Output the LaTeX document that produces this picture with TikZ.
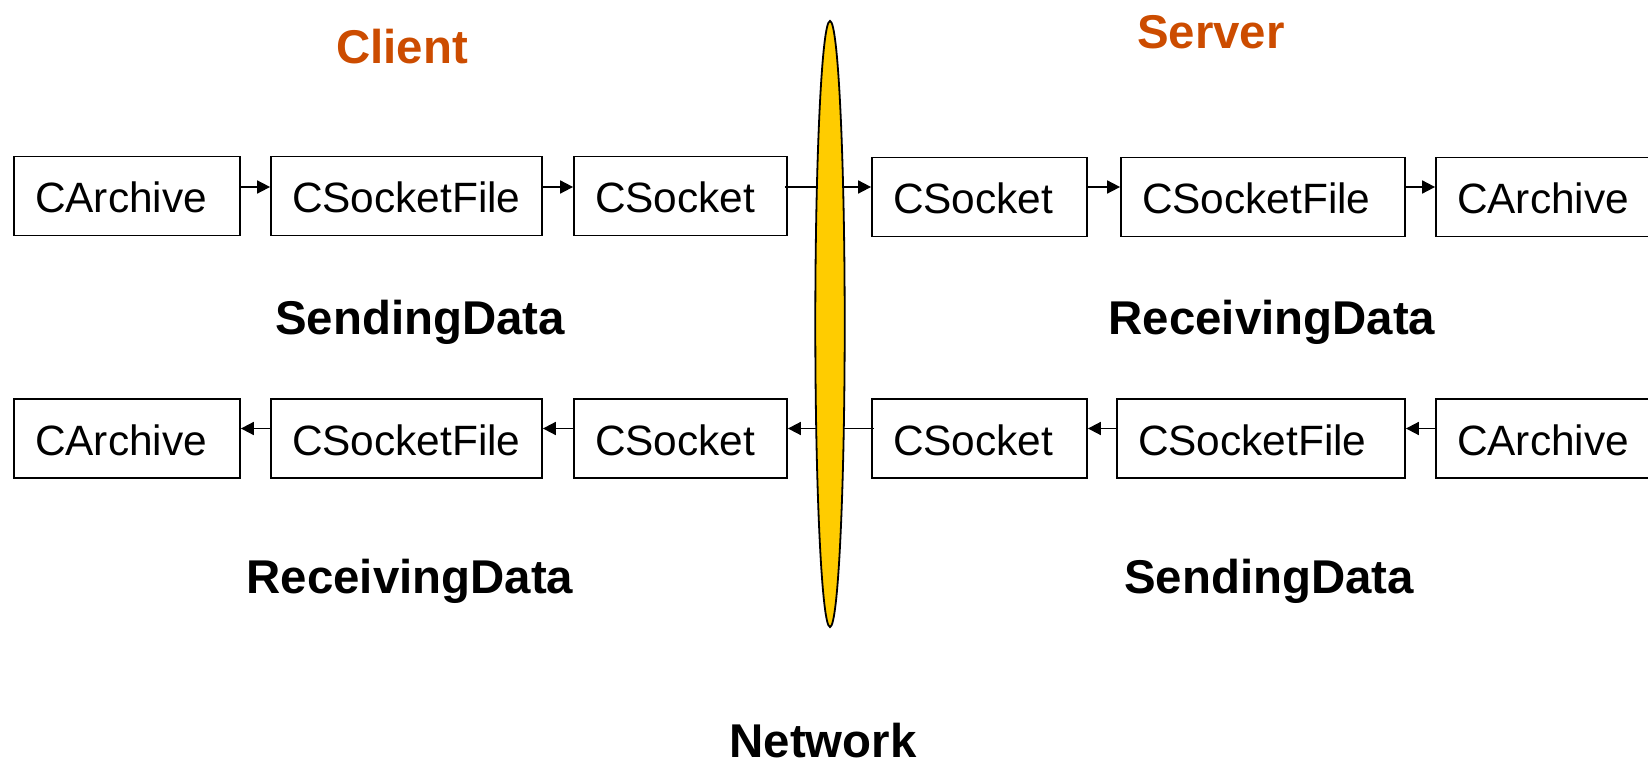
\documentclass[tikz,border=0pt]{standalone}
\usepackage{fontspec}
\setmainfont{Liberation Sans}
\usetikzlibrary{arrows.meta,shapes.geometric}
\definecolor{titleorange}{RGB}{204,76,0}
\definecolor{netyellow}{RGB}{255,204,0}
\begin{document}
\begin{tikzpicture}[x=0.5pt,y=-0.5pt,
  box/.style={draw,line width=0.9pt,inner ysep=0pt,inner xsep=10.5pt,
    minimum height=39.5pt,align=left,text height=17pt,text depth=0pt,
    font=\fontsize{21.2}{25}\selectfont},
  link/.style={line width=0.9pt,-{Triangle[length=6.5pt,width=6.5pt]}},
  heading/.style={font=\bfseries\fontsize{23.7}{28}\selectfont,anchor=base},
  side/.style={heading,text=titleorange}]
\useasboundingbox (0,0) rectangle (1648,764);
\clip (0,0) rectangle (1648,764);

% side titles
\node[side] (client) at (402,64) {Client};
\node[side] (server) at (1211,49) {Server};

% sending path: client to server
\node[box,text width=92pt]    (ca1) at (127,196)    {CArchive};
\node[box,text width=114.5pt] (cf1) at (406.5,196)  {CSocketFile};
\node[box,text width=85.5pt]  (cs1) at (680.5,196)  {CSocket};
\node[box,text width=86.5pt]  (cs2) at (979.5,197)  {CSocket};
\node[box,text width=121pt]   (cf2) at (1263,197)   {CSocketFile};
\node[box,text width=91pt]    (ca2) at (1548,197)   {CArchive};

% receiving path: server to client
\node[box,text width=92pt]    (ca3) at (127,438.5)   {CArchive};
\node[box,text width=114.5pt] (cf3) at (406.5,438.5) {CSocketFile};
\node[box,text width=85.5pt]  (cs3) at (680.5,438.5) {CSocket};
\node[box,text width=86.5pt]  (cs4) at (979.5,438.5) {CSocket};
\node[box,text width=123pt]   (cf4) at (1261,438.5)  {CSocketFile};
\node[box,text width=91pt]    (ca4) at (1548,438.5)  {CArchive};

% connectors, upper row
\draw[link] ([yshift=4.5pt]ca1.east) -- ([yshift=4.5pt]cf1.west);
\draw[link] ([yshift=4.5pt]cf1.east) -- ([yshift=4.5pt]cs1.west);
\draw[link] ([xshift=-1.5pt,yshift=4.5pt]cs1.east) -- ([yshift=4.5pt]cs1.east -| cs2.west);
\draw[link] ([yshift=5pt]cs2.east) -- ([yshift=5pt]cf2.west);
\draw[link] ([yshift=5pt]cf2.east) -- ([yshift=5pt]ca2.west);

% connectors, lower row
\draw[link] ([xshift=1.5pt,yshift=5pt]cs4.west) -- ([yshift=5pt]cs3.east);
\draw[link] ([yshift=5pt]cs3.west) -- ([yshift=5pt]cf3.east);
\draw[link] ([yshift=5pt]cf3.west) -- ([yshift=5pt]ca3.east);
\draw[link] ([yshift=5pt]cf4.west) -- ([yshift=5pt]cs4.east);
\draw[link] ([yshift=5pt]ca4.west) -- ([yshift=5pt]cf4.east);

% the network
\node[ellipse,draw,line width=0.9pt,fill=netyellow,inner sep=0pt,
  minimum width=14.7pt,minimum height=303pt] (net) at (830,324) {};

% path labels
\node[heading] (send1) at (420,335) {SendingData};
\node[heading] (recv1) at (1272,335) {ReceivingData};
\node[heading] (recv2) at (410,593) {ReceivingData};
\node[heading] (send2) at (1269,593) {SendingData};
\node[heading] (netlabel) at (823,757) {Network};
\end{tikzpicture}
\end{document}
